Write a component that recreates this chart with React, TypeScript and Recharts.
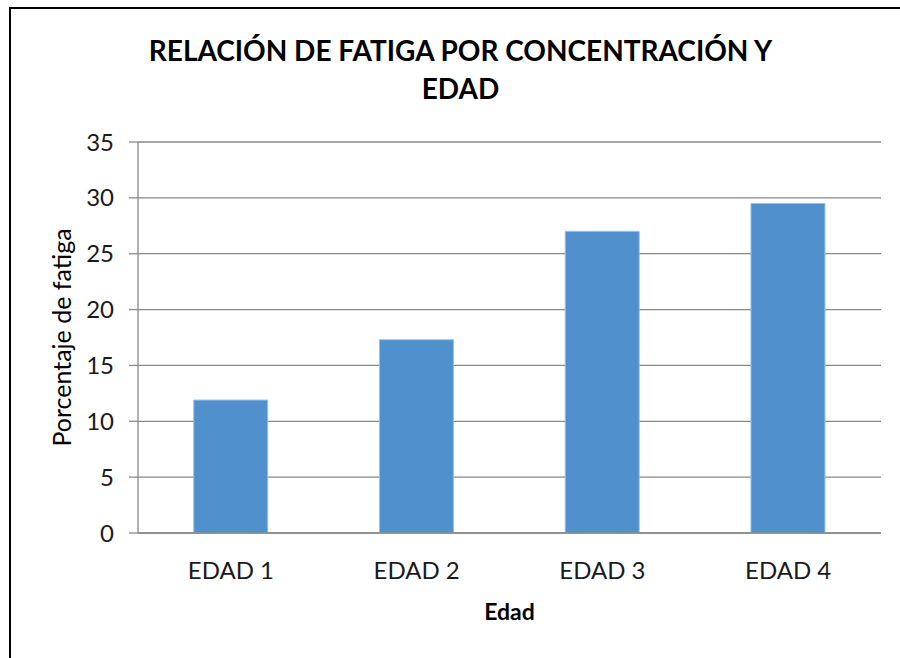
import React from "react";
import { BarChart, Bar, XAxis, YAxis, CartesianGrid } from "recharts";

const categories = ["EDAD 1", "EDAD 2", "EDAD 3", "EDAD 4"];
const fatiga = [11.9, 17.3, 27.0, 29.5];
const yTicks = [0, 5, 10, 15, 20, 25, 30, 35];
const titleLines = ["RELACIÓN DE FATIGA POR CONCENTRACIÓN Y", "EDAD"];
const yTitle = "Porcentaje de fatiga";
const xTitle = "Edad";

const data = categories.map((c, i) => ({ name: c, value: fatiga[i] }));

const FONT = "Lato, 'Open Sans', sans-serif";
const GRID = "#888888";

export default function App() {
  return (
    <div style={{ position: "absolute", left: 0, top: 0, width: 900, height: 658, background: "#fff", fontFamily: FONT, overflow: "hidden" }}>
      <div style={{ position: "absolute", left: 9, top: 7, width: 2, height: 651, background: "#000" }} />
      <div style={{ position: "absolute", left: 9, top: 7, width: 891, height: 2, background: "#000" }} />
      <div style={{ position: "absolute", left: 0, top: 31, width: 921, textAlign: "center", fontWeight: 700, fontSize: 28, lineHeight: "38px", color: "#000" }}>
        {titleLines.map((t) => (
          <div key={t}>{t}</div>
        ))}
      </div>
      <div style={{ position: "absolute", left: 0, top: 0 }}>
        <BarChart width={900} height={658} data={data} margin={{ top: 142, right: 19, bottom: 65, left: 0 }} barCategoryGap="30%">
          <CartesianGrid vertical={false} stroke={GRID} strokeWidth={1.3} />
          <XAxis
            dataKey="name"
            tickLine={false}
            tickSize={0}
            tickMargin={29}
            height={60}
            axisLine={{ stroke: GRID, strokeWidth: 1.3 }}
            tick={{ fill: "#1a1a1a", fontSize: 24, fontFamily: FONT }}
            label={{
              content: (props: any) => {
                const vb = props.viewBox || {};
                return (
                  <text x={vb.x + vb.width / 2} y={620} textAnchor="middle" fontWeight={700} fontSize={23} fontFamily={FONT} fill="#000">
                    {xTitle}
                  </text>
                );
              },
            }}
          />
          <YAxis
            width={138}
            domain={[0, 35]}
            ticks={yTicks}
            interval={0}
            tickSize={9}
            tickMargin={15}
            axisLine={{ stroke: GRID, strokeWidth: 1.3 }}
            tickLine={{ stroke: GRID, strokeWidth: 1.3 }}
            tick={{ fill: "#1a1a1a", fontSize: 24, fontFamily: FONT }}
            label={{
              content: (props: any) => {
                const vb = props.viewBox || {};
                const x = 61;
                const y = vb.y + vb.height / 2;
                return (
                  <text x={x} y={y} textAnchor="middle" dominantBaseline="central" transform={`rotate(-90, ${x}, ${y})`} fontSize={25} fontFamily={FONT} fill="#000">
                    {yTitle}
                  </text>
                );
              },
            }}
          />
          <Bar dataKey="value" fill="#4F90CD" stroke="#9DBFE3" strokeWidth={1} isAnimationActive={false} />
        </BarChart>
      </div>
    </div>
  );
}
